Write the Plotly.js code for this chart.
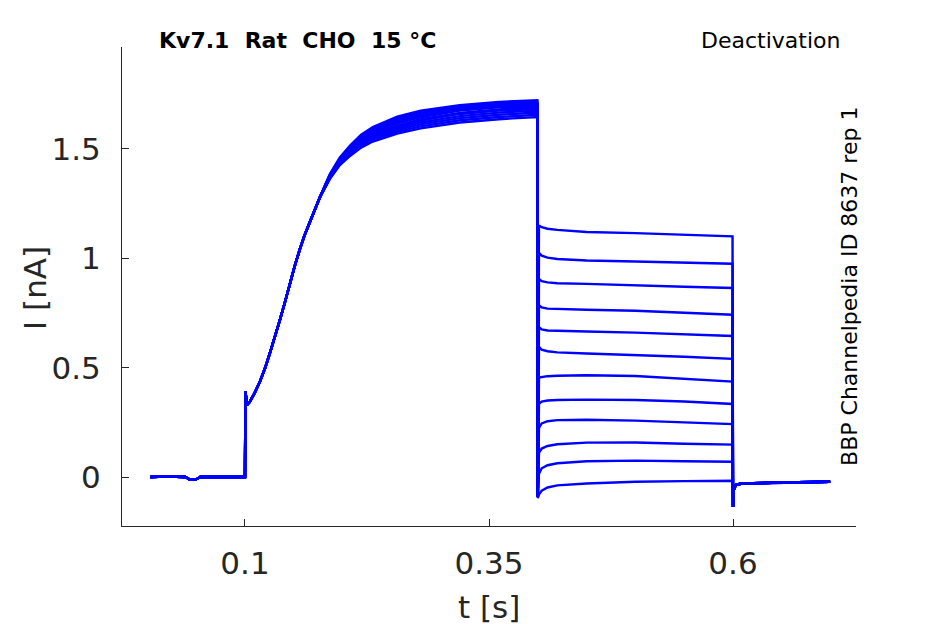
<!DOCTYPE html>
<html>
<head>
<meta charset="utf-8">
<script src="https://cdn.plot.ly/plotly-3.0.1.min.js"></script>
<style>
  html, body { margin: 0; padding: 0; background: #fff; }
  #chart { width: 945px; height: 624px; }
</style>
</head>
<body>
<div id="chart"></div>
<script>
// holding period before the step (shared by all sweeps)
const preT = [0.003, 0.02, 0.039, 0.043, 0.05, 0.054, 0.07, 0.0995];
const preI = [0.0, 0.002, 0.0, -0.01, -0.011, 0.0, 0.0, 0.0];

// activation step, common part
const actT = [0.1, 0.1005, 0.102, 0.105, 0.11, 0.1153, 0.1205, 0.1256, 0.1307, 0.1358, 0.141, 0.146, 0.151, 0.156, 0.161, 0.1666, 0.172, 0.177];
const actI = [0.0, 0.39, 0.33, 0.344, 0.385, 0.436, 0.497, 0.567, 0.64, 0.718, 0.80, 0.887, 0.965, 1.038, 1.105, 1.167, 1.228, 1.282];

// activation plateau, one row per sweep
const platT = [0.182, 0.187, 0.197, 0.2076, 0.219, 0.231, 0.256, 0.28, 0.32, 0.36, 0.3995];
const platI = [
  [1.335, 1.385, 1.46, 1.515, 1.565, 1.60, 1.648, 1.675, 1.70, 1.715, 1.722],
  [1.333, 1.382, 1.455, 1.51, 1.56, 1.595, 1.642, 1.67, 1.695, 1.71, 1.716],
  [1.331, 1.38, 1.452, 1.505, 1.555, 1.59, 1.636, 1.665, 1.69, 1.705, 1.71],
  [1.33, 1.378, 1.449, 1.50, 1.548, 1.582, 1.628, 1.657, 1.685, 1.70, 1.705],
  [1.329, 1.376, 1.446, 1.496, 1.543, 1.577, 1.622, 1.651, 1.68, 1.695, 1.70],
  [1.328, 1.375, 1.443, 1.492, 1.538, 1.572, 1.616, 1.645, 1.675, 1.69, 1.695],
  [1.327, 1.373, 1.44, 1.488, 1.533, 1.566, 1.607, 1.636, 1.665, 1.681, 1.69],
  [1.326, 1.371, 1.437, 1.484, 1.528, 1.56, 1.601, 1.63, 1.66, 1.675, 1.682],
  [1.325, 1.369, 1.434, 1.48, 1.522, 1.553, 1.593, 1.621, 1.65, 1.666, 1.675],
  [1.324, 1.367, 1.431, 1.476, 1.517, 1.547, 1.586, 1.612, 1.641, 1.656, 1.666],
  [1.323, 1.365, 1.428, 1.472, 1.512, 1.541, 1.578, 1.603, 1.631, 1.646, 1.656],
  [1.322, 1.363, 1.425, 1.468, 1.506, 1.534, 1.57, 1.594, 1.621, 1.636, 1.646]
];

// deactivation tails, one row per sweep
const tailT = [0.4, 0.4012, 0.404, 0.41, 0.42, 0.45, 0.5, 0.55, 0.5995];
const tailI = [
  [-0.09, 1.15, 1.142, 1.135, 1.13, 1.12, 1.115, 1.108, 1.10],
  [-0.09, 1.025, 1.012, 1.003, 0.997, 0.99, 0.985, 0.98, 0.975],
  [-0.09, 0.905, 0.895, 0.89, 0.886, 0.883, 0.878, 0.87, 0.864],
  [-0.09, 0.785, 0.775, 0.77, 0.768, 0.765, 0.76, 0.752, 0.742],
  [-0.09, 0.685, 0.675, 0.67, 0.668, 0.665, 0.66, 0.652, 0.645],
  [-0.09, 0.595, 0.582, 0.575, 0.57, 0.565, 0.558, 0.55, 0.54],
  [-0.09, 0.455, 0.458, 0.461, 0.463, 0.465, 0.462, 0.45, 0.436],
  [-0.09, 0.335, 0.345, 0.35, 0.352, 0.354, 0.352, 0.345, 0.334],
  [-0.09, 0.225, 0.245, 0.255, 0.26, 0.262, 0.258, 0.25, 0.242],
  [-0.09, 0.11, 0.13, 0.142, 0.15, 0.157, 0.158, 0.152, 0.148],
  [-0.09, 0.015, 0.04, 0.054, 0.063, 0.072, 0.075, 0.072, 0.07],
  [-0.096, -0.08, -0.062, -0.048, -0.038, -0.03, -0.022, -0.019, -0.017]
];

// return to holding potential (shared)
const postT = [0.6, 0.6008, 0.603, 0.61, 0.65, 0.6995];
const postI = [-0.137, -0.06, -0.035, -0.03, -0.025, -0.022];

const xTicks = [0.1, 0.35, 0.6];
const xTickText = ['0.1', '0.35', '0.6'];
const yTicks = [0, 0.5, 1, 1.5];
const yTickText = ['0', '0.5', '1', '1.5'];

const FONT = 'DejaVu Sans, sans-serif';
const AX = '#262626';

var data = [];
for (let k = 0; k < platI.length; k++) {
  data.push({
    x: preT.concat(actT, platT, tailT, postT),
    y: preI.concat(actI, platI[k], tailI[k], postI),
    mode: 'lines',
    line: { color: '#0000ff', width: 2.4 },
    hoverinfo: 'skip',
    showlegend: false
  });
}

var layout = {
  width: 945,
  height: 624,
  margin: { l: 122, r: 89, t: 47, b: 98, pad: 0 },
  paper_bgcolor: '#fff',
  plot_bgcolor: '#fff',
  font: { family: FONT, color: AX },
  xaxis: {
    range: [-0.026, 0.726],
    showgrid: false, zeroline: false,
    showline: true, linecolor: AX, linewidth: 1,
    ticks: 'inside', ticklen: 7, tickcolor: AX,
    tickvals: xTicks, ticktext: xTickText,
    tickfont: { size: 31, family: FONT, color: AX },
    ticklabelstandoff: 10
  },
  yaxis: {
    range: [-0.224, 1.966],
    showgrid: false, zeroline: false,
    showline: true, linecolor: AX, linewidth: 1,
    ticks: 'inside', ticklen: 7, tickcolor: AX,
    tickvals: yTicks, ticktext: yTickText,
    tickfont: { size: 31, family: FONT, color: AX },
    ticklabelstandoff: 14
  },
  annotations: [
    { text: '<b>Kv7.1  Rat  CHO  15 °C</b>', xref: 'paper', yref: 'paper',
      x: 0.048, y: 1.0146, xanchor: 'left', yanchor: 'middle', showarrow: false,
      font: { size: 22, family: FONT, color: '#000' } },
    { text: 'Deactivation', xref: 'paper', yref: 'paper',
      x: 0.981, y: 1.0146, xanchor: 'right', yanchor: 'middle', showarrow: false,
      font: { size: 22, family: FONT, color: '#000' } },
    { text: 'BBP Channelpedia ID 8637 rep 1', xref: 'paper', yref: 'paper',
      x: 0.991, y: 0.5, xanchor: 'center', yanchor: 'middle', showarrow: false,
      textangle: -90, font: { size: 22, family: FONT, color: '#000' } },
    { text: 't [s]', xref: 'paper', yref: 'paper',
      x: 0.5, y: -0.169, xanchor: 'center', yanchor: 'middle', showarrow: false,
      font: { size: 31, family: FONT, color: AX } },
    { text: 'I [nA]', xref: 'paper', yref: 'paper',
      x: -0.1185, y: 0.497, xanchor: 'center', yanchor: 'middle', showarrow: false,
      textangle: -90, font: { size: 31, family: FONT, color: AX } }
  ]
};

var config = { staticPlot: true, displayModeBar: false };

Plotly.newPlot('chart', data, layout, config);
</script>
</body>
</html>
